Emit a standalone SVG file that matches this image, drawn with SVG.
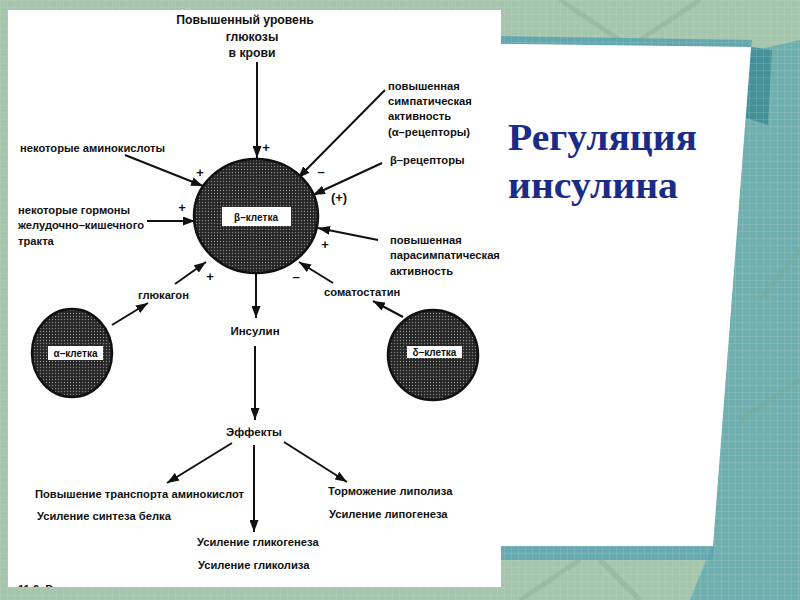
<svg xmlns="http://www.w3.org/2000/svg" width="800" height="600" viewBox="0 0 800 600">
  <defs>
    <style>
      .t { font-family: "Liberation Sans", Arial, sans-serif; font-size: 11.2px; font-weight: bold; fill: #111; }
      .tt { font-family: "Liberation Sans", Arial, sans-serif; font-size: 12.2px; font-weight: bold; fill: #111; }
      .tm { font-family: "Liberation Sans", Arial, sans-serif; font-size: 11.5px; font-weight: bold; fill: #111; }
      .sign { font-family: "Liberation Sans", Arial, sans-serif; font-size: 13px; font-weight: bold; fill: #111; }
      .lbl { font-family: "Liberation Sans", Arial, sans-serif; font-size: 10px; font-weight: bold; fill: #111; }
      .title { font-family: "Liberation Serif", "Times New Roman", serif; font-size: 37px; font-weight: bold; fill: #1a2b88; }
      .conn line { stroke: #111; stroke-width: 2; marker-end: url(#ah); }
      .cell { fill: url(#dots); stroke: #111; stroke-width: 2.5; }
      .box { fill: #fff; }
    </style>
    <marker id="ah" viewBox="0 0 12 9" refX="12" refY="4.5" markerWidth="12" markerHeight="9" markerUnits="userSpaceOnUse" orient="auto">
      <path d="M0,0 L12,4.5 L0,9 z" fill="#111"/>
    </marker>
    <pattern id="dots" width="3" height="3" patternUnits="userSpaceOnUse">
      <rect width="3" height="3" fill="#262626"/>
      <circle cx="1.5" cy="1.5" r="0.7" fill="#858585"/>
    </pattern>
    <pattern id="grid" width="7" height="7" patternUnits="userSpaceOnUse">
      <path d="M0,0 V7 M0,0 H7" stroke="#d8e8dc" stroke-width="0.8" opacity="0.35"/>
    </pattern>
    <clipPath id="panelclip">
      <rect x="8" y="10" width="493" height="577"/>
    </clipPath>
  </defs>

  <!-- background -->
  <g id="background">
    <rect width="800" height="600" fill="#a6c5ad"/>
    <polygon points="735,55 800,40 800,600 690,600 712,546" fill="#5da7b1" opacity="0.75"/>
    <polygon points="500,546 715,546 712,560 500,560" fill="#5aa3b3" opacity="0.8"/>
    <polygon points="500,36 752,40 751,47 500,44" fill="#4f9fb0" opacity="0.8"/>
    <polygon points="751,47 772,50 768,125 746,118" fill="#3d8c97" opacity="0.85"/>
    <rect width="800" height="600" fill="url(#grid)"/>
    <path d="M560,0 L620,40 M700,0 L640,40 M760,300 L800,250 M740,420 L800,380 M520,600 L580,560 M640,600 L600,560" stroke="#7fa68a" stroke-width="5" opacity="0.3"/>
  </g>

  <!-- left white panel -->
  <rect id="panel" x="8" y="10" width="493" height="577" fill="#fff"/>

  <!-- title card -->
  <g id="titlecard">
    <polygon points="500,44 751,47 713,546 500,546" fill="#fff"/>
    <text class="title" x="508" y="150" textLength="189" lengthAdjust="spacingAndGlyphs">Регуляция</text>
    <text class="title" x="508" y="198" textLength="170" lengthAdjust="spacingAndGlyphs">инсулина</text>
  </g>

  <!-- connectors -->
  <g id="connectors" class="conn">
    <line x1="257" y1="62" x2="257" y2="158"/>
    <line x1="125" y1="155" x2="203" y2="186"/>
    <line x1="147" y1="221" x2="195" y2="221"/>
    <line x1="175" y1="284" x2="206" y2="262"/>
    <line x1="112" y1="325" x2="148" y2="303"/>
    <line x1="385" y1="90" x2="298" y2="178"/>
    <line x1="382" y1="163" x2="313" y2="195"/>
    <line x1="378" y1="240" x2="318" y2="228"/>
    <line x1="333" y1="283" x2="299" y2="262"/>
    <line x1="403" y1="317" x2="373" y2="301"/>
    <line x1="256" y1="274" x2="256" y2="318"/>
    <line x1="255" y1="346" x2="255" y2="420"/>
    <line x1="232" y1="443" x2="167" y2="483"/>
    <line x1="254" y1="445" x2="254" y2="532"/>
    <line x1="284" y1="442" x2="347" y2="482"/>
  </g>

  <!-- beta cell -->
  <g id="beta-cell">
    <ellipse class="cell" cx="256" cy="216" rx="62" ry="57"/>
    <rect class="box" x="222" y="207" width="69" height="19"/>
    <text class="lbl" x="256" y="220.5" text-anchor="middle">β–клетка</text>
  </g>

  <!-- alpha cell -->
  <g id="alpha-cell">
    <ellipse class="cell" cx="72" cy="353" rx="40" ry="44"/>
    <rect class="box" x="48" y="346" width="55" height="14"/>
    <text class="lbl" x="75.5" y="357" text-anchor="middle" font-size="9.5">α–клетка</text>
  </g>

  <!-- delta cell -->
  <g id="delta-cell">
    <ellipse class="cell" cx="433" cy="355" rx="45" ry="45"/>
    <rect class="box" x="407" y="346" width="55" height="12"/>
    <text class="lbl" x="434.5" y="356" text-anchor="middle" font-size="9">δ–клетка</text>
  </g>

  <!-- input labels -->
  <g id="glucose">
    <text class="tt" x="245" y="24" text-anchor="middle">Повышенный уровень</text>
    <text class="tt" x="252" y="41" text-anchor="middle">глюкозы</text>
    <text class="tt" x="252" y="57" text-anchor="middle">в крови</text>
  </g>
  <g id="aminoacids">
    <text class="t" x="20" y="152">некоторые аминокислоты</text>
  </g>
  <g id="gi-hormones">
    <text class="t" x="18" y="214">некоторые гормоны</text>
    <text class="t" x="18" y="229">желудочно–кишечного</text>
    <text class="t" x="18" y="245">тракта</text>
  </g>
  <g id="glucagon">
    <text class="t" x="138" y="299">глюкагон</text>
  </g>
  <g id="sympathetic">
    <text class="t" x="388" y="90">повышенная</text>
    <text class="t" x="388" y="105">симпатическая</text>
    <text class="t" x="388" y="120">активность</text>
    <text class="t" x="388" y="136">(α–рецепторы)</text>
  </g>
  <g id="beta-receptors">
    <text class="t" x="390" y="164">β–рецепторы</text>
  </g>
  <g id="parasympathetic">
    <text class="t" x="390" y="244">повышенная</text>
    <text class="t" x="390" y="259">парасимпатическая</text>
    <text class="t" x="390" y="275">активность</text>
  </g>
  <g id="somatostatin">
    <text class="t" x="324" y="296">соматостатин</text>
  </g>

  <!-- signs -->
  <g id="signs">
    <text class="sign" x="266" y="152" text-anchor="middle">+</text>
    <text class="sign" x="200" y="177" text-anchor="middle">+</text>
    <text class="sign" x="182" y="212" text-anchor="middle">+</text>
    <text class="sign" x="210" y="281" text-anchor="middle">+</text>
    <text class="sign" x="321" y="176" text-anchor="middle">–</text>
    <text class="sign" x="339" y="202" text-anchor="middle">(+)</text>
    <text class="sign" x="325" y="249" text-anchor="middle">+</text>
    <text class="sign" x="296" y="281" text-anchor="middle">–</text>
  </g>

  <!-- outputs -->
  <g id="insulin">
    <text class="tm" x="255" y="335" text-anchor="middle">Инсулин</text>
  </g>
  <g id="effects">
    <text class="tm" x="254" y="436" text-anchor="middle">Эффекты</text>
  </g>
  <g id="effect-protein">
    <text class="t" x="35" y="498">Повышение транспорта аминокислот</text>
    <text class="t" x="37" y="520">Усиление синтеза белка</text>
  </g>
  <g id="effect-lipid">
    <text class="t" x="328" y="495">Торможение липолиза</text>
    <text class="t" x="329" y="518">Усиление  липогенеза</text>
  </g>
  <g id="effect-glycogen">
    <text class="t" x="197" y="546">Усиление гликогенеза</text>
    <text class="t" x="198" y="569">Усиление гликолиза</text>
  </g>

  <g id="caption" clip-path="url(#panelclip)">
    <text class="t" x="18" y="593" font-size="12">11.6. Р</text>
  </g>
</svg>
